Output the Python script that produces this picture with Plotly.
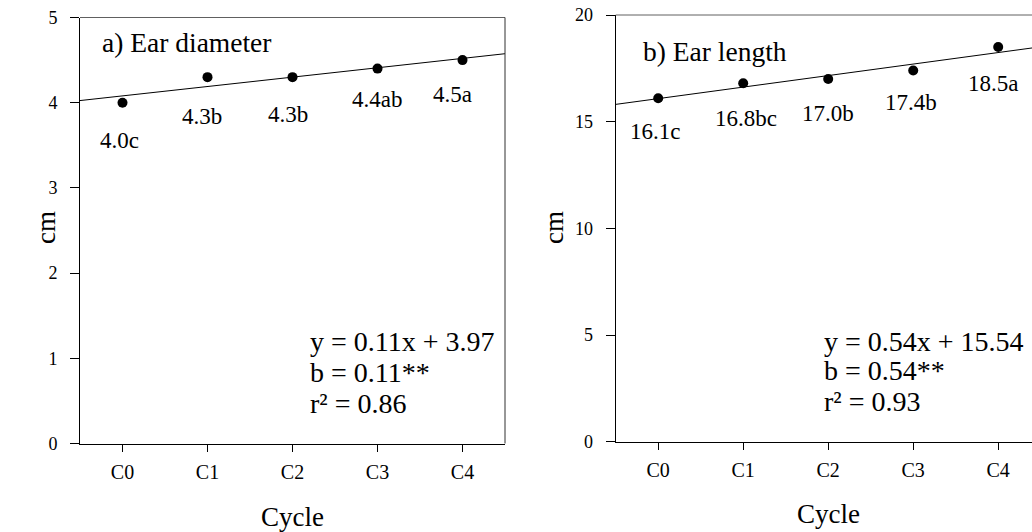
import plotly.graph_objects as go

# ---- data ----
cycles = ["C0", "C1", "C2", "C3", "C4"]
diam_vals = [4.0, 4.3, 4.3, 4.4, 4.5]
diam_letters = ["c", "b", "b", "ab", "a"]
len_vals = [16.1, 16.8, 17.0, 17.4, 18.5]
len_letters = ["c", "bc", "b", "b", "a"]
diam_slope, diam_icpt, diam_r2 = 0.11, 3.97, 0.86
len_slope, len_icpt, len_r2 = 0.54, 15.54, 0.93
diam_yticks = [0, 1, 2, 3, 4, 5]
len_yticks = [0, 5, 10, 15, 20]

W, H = 1032, 532
FONT = "Liberation Serif"


def px(x):
    return x / W


def py(y):
    return (H - y) / H


xs = list(range(len(cycles)))
line_x = [-0.5, 4.5]

fig = go.Figure()

# Panel a
fig.add_trace(go.Scatter(x=line_x, y=[diam_slope * (x + 1) + diam_icpt for x in line_x],
                         mode="lines", line=dict(color="black", width=1),
                         xaxis="x", yaxis="y", showlegend=False, hoverinfo="skip"))
fig.add_trace(go.Scatter(x=xs, y=diam_vals, mode="markers",
                         marker=dict(color="black", size=10),
                         xaxis="x", yaxis="y", showlegend=False))
# Panel b
fig.add_trace(go.Scatter(x=line_x, y=[len_slope * (x + 1) + len_icpt for x in line_x],
                         mode="lines", line=dict(color="black", width=1),
                         xaxis="x2", yaxis="y2", showlegend=False, hoverinfo="skip"))
fig.add_trace(go.Scatter(x=xs, y=len_vals, mode="markers",
                         marker=dict(color="black", size=10),
                         xaxis="x2", yaxis="y2", showlegend=False))

annotations = []
lab_font = dict(family=FONT, size=23, color="black")
a_dy = [38, 39, 37, 31, 34]
a_dx = [-3, -6, -5, -1, -10]
for i, (v, l) in enumerate(zip(diam_vals, diam_letters)):
    annotations.append(dict(x=i, y=v, xref="x", yref="y", text=f"{v:.1f}{l}",
                            showarrow=False, xshift=a_dx[i], yshift=-a_dy[i],
                            font=lab_font, xanchor="center", yanchor="middle"))
b_dy = [33, 35, 34, 32, 36]
b_dx = [-3, 3, 0, -2, -5]
for i, (v, l) in enumerate(zip(len_vals, len_letters)):
    annotations.append(dict(x=i, y=v, xref="x2", yref="y2", text=f"{v:.1f}{l}",
                            showarrow=False, xshift=b_dx[i], yshift=-b_dy[i],
                            font=lab_font, xanchor="center", yanchor="middle"))

big = dict(family=FONT, size=28, color="black")
ttl_font = dict(family=FONT, size=27.5, color="black")
# panel titles
annotations.append(dict(x=px(100), y=py(43), xref="paper", yref="paper", text="a) Ear diameter",
                        showarrow=False, xanchor="left", yanchor="middle", font=ttl_font))
annotations.append(dict(x=px(641), y=py(51.5), xref="paper", yref="paper", text="b) Ear length",
                        showarrow=False, xanchor="left", yanchor="middle", font=ttl_font))


# equations
def eq_lines(slope, icpt, r2):
    return [f"y = {slope:.2f}x + {icpt:.2f}", f"b = {slope:.2f}**", f"r² = {r2:.2f}"]


for x0, ys, lines in [(308, [342, 372, 403], eq_lines(diam_slope, diam_icpt, diam_r2)),
                      (821.5, [341, 370.5, 401.5], eq_lines(len_slope, len_icpt, len_r2))]:
    for yy, t in zip(ys, lines):
        annotations.append(dict(x=px(x0), y=py(yy), xref="paper", yref="paper", text=t,
                                showarrow=False, xanchor="left", yanchor="middle", font=big))

# axis titles
ttl = dict(family=FONT, size=27, color="black")
annotations.append(dict(x=px(46), y=py(228), xref="paper", yref="paper", text="cm", textangle=-90,
                        showarrow=False, xanchor="center", yanchor="middle", font=ttl))
annotations.append(dict(x=px(554), y=py(228), xref="paper", yref="paper", text="cm", textangle=-90,
                        showarrow=False, xanchor="center", yanchor="middle", font=ttl))
annotations.append(dict(x=px(292), y=py(517), xref="paper", yref="paper", text="Cycle",
                        showarrow=False, xanchor="center", yanchor="middle", font=ttl))
annotations.append(dict(x=px(828), y=py(514), xref="paper", yref="paper", text="Cycle",
                        showarrow=False, xanchor="center", yanchor="middle", font=ttl))

xtick_font = dict(family=FONT, size=20, color="black")
ytick_font = dict(family=FONT, size=18, color="black")

common_x = dict(tickmode="array", tickvals=xs, ticktext=cycles, showgrid=False, zeroline=False,
                showline=True, linecolor="black", linewidth=1, ticks="outside", ticklen=7,
                tickcolor="black", tickfont=xtick_font, ticklabelstandoff=3, automargin=False,
                ticklabeloverflow="allow")
common_y = dict(showgrid=False, zeroline=False, showline=True, linecolor="black", linewidth=1,
                ticks="outside", ticklen=9, tickcolor="black", tickfont=ytick_font,
                ticklabelstandoff=9, tickmode="array", automargin=False,
                ticklabeloverflow="allow")

fig.update_layout(
    template="none",
    width=W, height=H,
    margin=dict(l=0, r=0, t=0, b=0, autoexpand=False),
    paper_bgcolor="white", plot_bgcolor="white",
    showlegend=False,
    xaxis=dict(domain=[px(80), px(505)], range=[-0.5, 4.5], anchor="y", **common_x),
    yaxis=dict(domain=[py(443.5), py(17.5)], range=[0, 5], anchor="x",
               tickvals=diam_yticks, **common_y),
    xaxis2=dict(domain=[px(615.7), 1.0], range=[-0.5, -0.5 + (W - 615.7) / 85], anchor="y2",
                **common_x),
    yaxis2=dict(domain=[py(441.7), py(15)], range=[0, 20], anchor="x2",
                tickvals=len_yticks, **common_y),
    annotations=annotations,
    shapes=[
        dict(type="line", xref="x domain", yref="y domain", x0=0, x1=1, y0=1, y1=1,
             line=dict(color="#606060", width=1)),
        dict(type="line", xref="x domain", yref="y domain", x0=1, x1=1, y0=0, y1=1,
             line=dict(color="#303030", width=1)),
        dict(type="line", xref="x2 domain", yref="y2 domain", x0=0, x1=1, y0=1, y1=1,
             line=dict(color="#606060", width=1)),
    ],
)

fig.write_html("out.html",
               config={"displayModeBar": False},
               post_script="document.body.style.margin='0';document.body.style.overflow='hidden';")
